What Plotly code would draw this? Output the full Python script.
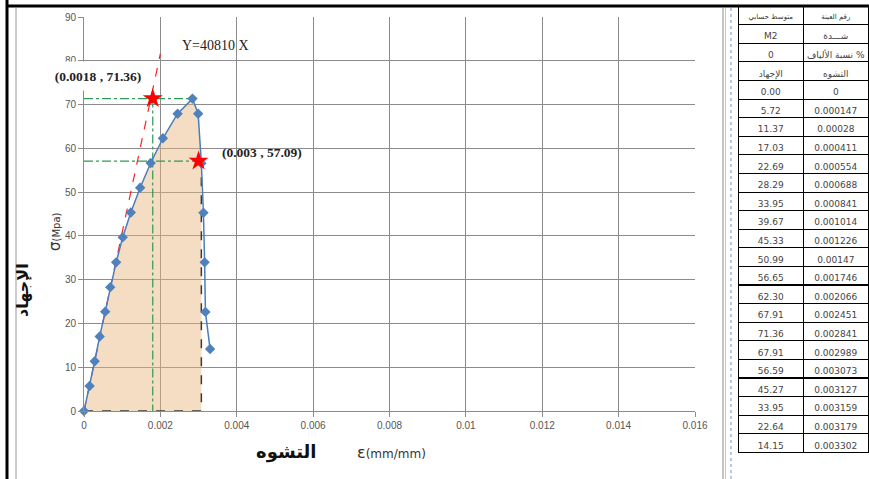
import plotly.graph_objects as go

# Stress-strain test results (sample M2)
stress = [0.00, 5.72, 11.37, 17.03, 22.69, 28.29, 33.95, 39.67, 45.33, 50.99,
          56.65, 62.30, 67.91, 71.36, 67.91, 56.59, 45.27, 33.95, 22.64, 14.15]
strain = [0, 0.000147, 0.00028, 0.000411, 0.000554, 0.000688, 0.000841, 0.001014,
          0.001226, 0.00147, 0.001746, 0.002066, 0.002451, 0.002841, 0.002989,
          0.003073, 0.003127, 0.003159, 0.003179, 0.003302]

# Marked points and the elastic line
peak_point = (0.0018, 71.36)
drop_point = (0.003, 57.09)
elastic_slope = 40810
elastic_x_end = 0.002
area_end = 15          # index of the last point bounding the shaded area

x_ticks = [0, 0.002, 0.004, 0.006, 0.008, 0.01, 0.012, 0.014, 0.016]
x_tick_text = ["0", "0.002", "0.004", "0.006", "0.008", "0.01", "0.012", "0.014", "0.016"]
y_ticks = [0, 10, 20, 30, 40, 50, 60, 70, 80, 90]

# Table header rows
head_left = ["متوسط حسابي", "M2", "0", "الإجهاد"]
head_right = ["رقم العينة", "شـــدة", "نسبة الألياف %", "التشوه"]

W, H = 869, 479
L, R, T, B = 84, 695, 17, 411   # plot area in pixels


def px(x):
    return x / W


def py(y):
    return 1 - y / H


def nb(s):
    return s.replace(" ", "\u00a0")


fig = go.Figure()

# shaded area under the curve
fx = strain[:area_end + 1] + [strain[area_end]]
fy = stress[:area_end + 1] + [0]
fig.add_trace(go.Scatter(x=fx, y=fy, fill="toself", mode="none",
                         fillcolor="rgba(230,180,120,0.45)", hoverinfo="skip"))

# boundary dashed lines of the area
fig.add_trace(go.Scatter(x=[0, strain[area_end], strain[area_end]],
                         y=[0, 0, stress[area_end]], mode="lines",
                         line=dict(color="#3a3a3a", width=1.5, dash="dash"),
                         cliponaxis=False))

# guide lines to the marked points
green = "#2f9a55"
fig.add_trace(go.Scatter(x=[0, strain[13]], y=[peak_point[1], peak_point[1]], mode="lines",
                         line=dict(color=green, width=1.2, dash="dashdot")))
fig.add_trace(go.Scatter(x=[peak_point[0], peak_point[0]], y=[peak_point[1], 0], mode="lines",
                         line=dict(color=green, width=1.2, dash="dashdot")))
fig.add_trace(go.Scatter(x=[0, drop_point[0]], y=[drop_point[1], drop_point[1]], mode="lines",
                         line=dict(color=green, width=1.2, dash="dashdot")))

# elastic line Y = 40810 X
fig.add_trace(go.Scatter(x=[0, elastic_x_end], y=[0, elastic_slope * elastic_x_end],
                         mode="lines", line=dict(color="#ff2020", width=1.2, dash="dash")))

# stress-strain curve
fig.add_trace(go.Scatter(x=strain, y=stress, mode="lines+markers",
                         line=dict(color="#4a7ebb", width=1.5),
                         marker=dict(symbol="diamond", size=8, color="#4f81bd"),
                         cliponaxis=False))

# marked points
fig.add_trace(go.Scatter(x=[peak_point[0], drop_point[0]], y=[peak_point[1], drop_point[1]],
                         mode="markers", marker=dict(symbol="star", size=15, color="#ff0000",
                                                     line=dict(width=0))))

# data table
fig.add_trace(go.Table(
    domain=dict(x=[738 / W, 1.0], y=[py(470), py(6)]),
    columnwidth=[66, 65],
    header=dict(values=[nb(head_left[0]), nb(head_right[0])], height=18.6,
                line=dict(color="black", width=1), fill=dict(color="white"),
                font=dict(family="DejaVu Sans", size=7, color="#333"), align="center"),
    cells=dict(values=[[nb(s) for s in head_left[1:]] + [f"{v:.2f}" for v in stress],
                       [nb(s) for s in head_right[1:]] + [f"{v:g}" for v in strain]],
               height=18.6, line=dict(color="black", width=1), fill=dict(color="white"),
               font=dict(family="DejaVu Sans", size=9, color="#444"), align="center"),
))

grid = "#8c8c8c"
fig.update_xaxes(domain=[px(L), px(R)], range=[0, 0.016], tickvals=x_ticks, ticktext=x_tick_text,
                 showgrid=True, gridcolor=grid, gridwidth=1, zeroline=False,
                 showline=True, linecolor=grid, linewidth=1,
                 ticks="outside", ticklen=5, tickcolor=grid,
                 tickfont=dict(family="Liberation Sans", size=10, color="#555"))
fig.update_yaxes(domain=[py(B), py(T)], range=[0, 90], tickvals=y_ticks,
                 showgrid=True, gridcolor=grid, gridwidth=1, zeroline=False,
                 showline=True, linecolor=grid, linewidth=1,
                 ticks="outside", ticklen=5, tickcolor=grid,
                 tickfont=dict(family="Liberation Sans", size=10, color="#555"))

shapes = [
    # outer frame
    dict(type="line", xref="paper", yref="paper", x0=px(7), x1=px(7), y0=py(0), y1=py(479),
         line=dict(color="black", width=3)),
    dict(type="line", xref="paper", yref="paper", x0=px(6), x1=px(869), y0=py(6), y1=py(6),
         line=dict(color="black", width=3)),
    dict(type="line", xref="paper", yref="paper", x0=px(16), x1=px(16), y0=py(8), y1=py(479),
         line=dict(color="#9a9a9a", width=1)),
    # separators between chart and table
    dict(type="line", xref="paper", yref="paper", x0=px(723), x1=px(723), y0=py(8), y1=py(479),
         line=dict(color="#8a8a8a", width=1)),
    dict(type="line", xref="paper", yref="paper", x0=px(725.5), x1=px(725.5), y0=py(8), y1=py(479),
         line=dict(color="#c8c8c8", width=1)),
    dict(type="line", xref="paper", yref="paper", x0=px(731), x1=px(731), y0=py(8), y1=py(479),
         line=dict(color="#6f8fd0", width=1, dash="dot")),
]

serif = "Liberation Serif"
annotations = [
    dict(x=px(215), y=py(45), text="Y=40810 X",
         font=dict(family=serif, size=14, color="#222")),
    dict(x=px(98), y=py(76), text="<b>(0.0018 , 71.36)</b>",
         bgcolor="white", width=104, height=26,
         font=dict(family=serif, size=13.5, color="#222")),
    dict(x=px(262), y=py(152), text="<b>(0.003 , 57.09)</b>",
         font=dict(family=serif, size=13.5, color="#222")),
    # axis titles
    dict(x=px(55), y=py(232), textangle=-90,
         text="σ<span style='font-size:10px'>(Mpa)</span>",
         font=dict(family="DejaVu Sans", size=15, color="#333")),
    dict(x=px(22), y=py(290), textangle=-90, text="<b>الإجهاد</b>",
         font=dict(family="DejaVu Sans", size=16, color="#111")),
    dict(x=px(286), y=py(452), text="<b>التشوه</b>",
         font=dict(family="DejaVu Sans", size=18, color="#111")),
    dict(x=px(391), y=py(452),
         text="ε<span style='font-size:12px'>(mm/mm)</span>",
         font=dict(family="DejaVu Sans", size=16, color="#333")),
]
for a in annotations:
    a.update(xref="paper", yref="paper", showarrow=False, xanchor="center", yanchor="middle")

fig.update_layout(
    width=W, height=H,
    margin=dict(l=0, r=0, t=0, b=0, autoexpand=False),
    paper_bgcolor="white", plot_bgcolor="white",
    showlegend=False,
    shapes=shapes, annotations=annotations,
)

fig.write_html("out.html")
